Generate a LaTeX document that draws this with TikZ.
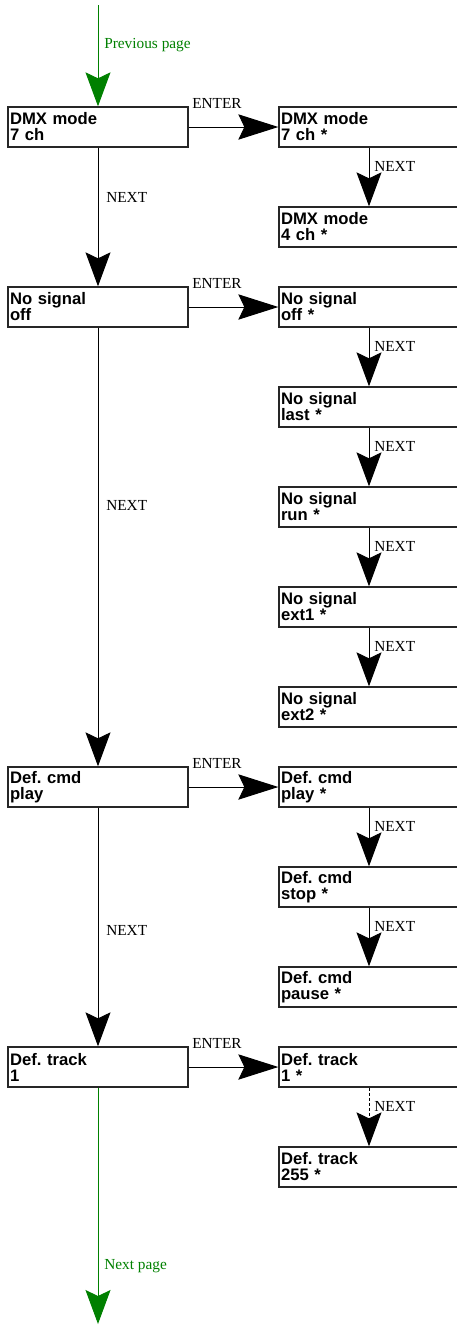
\documentclass[tikz,border=0pt]{standalone}
\usepackage{fontspec}
\setmainfont{Liberation Serif}
\setsansfont{Liberation Sans}
\usepackage{xcolor}
\usetikzlibrary{arrows.meta}
\definecolor{pagegreen}{RGB}{0,128,0}
\frenchspacing

\begin{document}
\begin{tikzpicture}[x={(0.75pt,0pt)},y={(0pt,-0.75pt)},
        menu/.style={draw=black!85,line width=1pt,rectangle,minimum height=30pt,text width=132pt,
            inner xsep=1.5pt,inner ysep=0pt,align=left,font=\fontsize{12.5}{12}\selectfont\sffamily\bfseries},
        lbl/.style={anchor=west,inner sep=0pt,font=\fontsize{11.5}{12}\selectfont},
        nextarrow/.style={-{Stealth[length=25.5pt,width=18.75pt,inset=4.5pt]},line width=0.75pt},
        enterarrow/.style={-{Stealth[length=30pt,width=19pt,inset=4.5pt]},line width=0.75pt}]
        \pgfmathsetmacro{\leftcol}{98}
        \pgfmathsetmacro{\rightcol}{369}
        \useasboundingbox (0,0) rectangle (457,1325);

        % main menu
        \node[menu] (dmxMode) at (\leftcol,127) {DMX mode\\7 ch};
        \node[menu] (noSignal) at (\leftcol,307) {No signal\\off};
        \node[menu] (defCmd) at (\leftcol,787) {Def. cmd\\play};
        \node[menu] (defTrack) at (\leftcol,1067) {Def. track\\1};

        % sub menus
        \node[menu] (dmxSeven) at (\rightcol,127) {DMX mode\\7 ch *};
        \node[menu] (dmxFour) at (\rightcol,227) {DMX mode\\4 ch *};
        \node[menu] (nsOff) at (\rightcol,307) {No signal\\off *};
        \node[menu] (nsLast) at (\rightcol,407) {No signal\\last *};
        \node[menu] (nsRun) at (\rightcol,507) {No signal\\run *};
        \node[menu] (nsExtA) at (\rightcol,607) {No signal\\ext1 *};
        \node[menu] (nsExtB) at (\rightcol,707) {No signal\\ext2 *};
        \node[menu] (dcPlay) at (\rightcol,787) {Def. cmd\\play *};
        \node[menu] (dcStop) at (\rightcol,887) {Def. cmd\\stop *};
        \node[menu] (dcPause) at (\rightcol,987) {Def. cmd\\pause *};
        \node[menu] (dtFirst) at (\rightcol,1067) {Def. track\\1 *};
        \node[menu] (dtLast) at (\rightcol,1167) {Def. track\\255 *};

        % page links
        \coordinate (prevTop) at (\leftcol,5);
        \coordinate (nextEnd) at (\leftcol,1324);
        \draw [nextarrow,pagegreen] (prevTop) -- (dmxMode);
        \draw [nextarrow,pagegreen] (defTrack) -- (nextEnd);
        \node[lbl,text=pagegreen] (prevLbl) at (104,45) {Previous page};
        \node[lbl,text=pagegreen] (nextLbl) at (104,1266) {Next page};

        % NEXT down the main menu
        \draw [nextarrow] (dmxMode) -- (noSignal);
        \draw [nextarrow] (noSignal) -- (defCmd);
        \draw [nextarrow] (defCmd) -- (defTrack);
        \node[lbl] (nextA) at (106,197) {NEXT};
        \node[lbl] (nextB) at (106,505) {NEXT};
        \node[lbl] (nextC) at (106,930) {NEXT};

        % ENTER
        \draw [enterarrow] (dmxMode) -- (dmxSeven);
        \draw [enterarrow] (noSignal) -- (nsOff);
        \draw [enterarrow] (defCmd) -- (dcPlay);
        \draw [enterarrow] (defTrack) -- (dtFirst);
        \node[lbl] (enterA) at (192,103) {ENTER};
        \node[lbl] (enterB) at (192,283) {ENTER};
        \node[lbl] (enterC) at (192,763) {ENTER};
        \node[lbl] (enterD) at (192,1043) {ENTER};

        % NEXT inside the sub menus
        \draw [nextarrow] (dmxSeven) -- (dmxFour);
        \draw [nextarrow] (nsOff) -- (nsLast);
        \draw [nextarrow] (nsLast) -- (nsRun);
        \draw [nextarrow] (nsRun) -- (nsExtA);
        \draw [nextarrow] (nsExtA) -- (nsExtB);
        \draw [nextarrow] (dcPlay) -- (dcStop);
        \draw [nextarrow] (dcStop) -- (dcPause);
        \draw [nextarrow,dash pattern=on 2.25pt off 1.5pt] (dtFirst) -- (dtLast);
        \node[lbl] (subA) at (374,166) {NEXT};
        \node[lbl] (subB) at (374,346) {NEXT};
        \node[lbl] (subC) at (374,446) {NEXT};
        \node[lbl] (subD) at (374,546) {NEXT};
        \node[lbl] (subE) at (374,646) {NEXT};
        \node[lbl] (subF) at (374,826) {NEXT};
        \node[lbl] (subG) at (374,926) {NEXT};
        \node[lbl] (subH) at (374,1106) {NEXT};
    \end{tikzpicture}
\end{document}
